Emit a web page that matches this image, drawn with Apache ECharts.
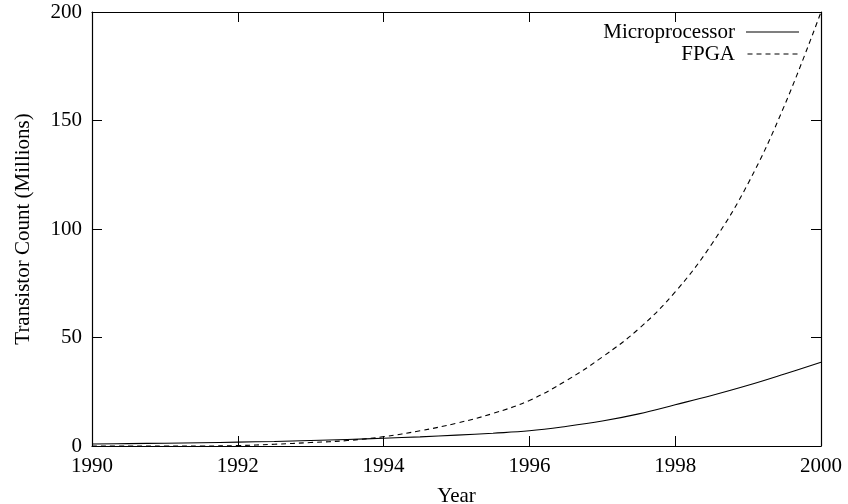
<!DOCTYPE html>
<html>
<head>
<meta charset="utf-8">
<script src="https://cdn.jsdelivr.net/npm/echarts@6/dist/echarts.min.js"></script>
<style>
html,body{margin:0;padding:0;background:#fff;}
#chart{width:848px;height:504px;}
</style>
</head>
<body>
<div id="chart"></div>
<script>
const years = [1990,1990.5,1991,1991.5,1992,1992.5,1993,1993.5,1994,1994.5,1995,1995.5,1996,1996.5,1997,1997.5,1998,1998.5,1999,1999.5,2000];
const microprocessor = [0.9,1.1,1.3,1.5,1.8,2.1,2.5,3.0,3.6,4.2,5.0,5.9,7.0,9.0,11.5,14.8,19.0,23.3,28.0,33.2,38.6];
const fpga = [0,0,0,0,0.2,0.8,1.6,2.5,4.3,7.0,10.5,15.0,21.0,30.0,41.0,54.0,71.0,93.0,121.0,157.0,200.0];
const xTicks = [1990,1992,1994,1996,1998,2000];
const yTicks = [0,50,100,150,200];

const FONT = 'Liberation Serif';
const FS = 21;
const chart = echarts.init(document.getElementById('chart'), null, {renderer:'canvas'});

function pairs(xs, ys){ return xs.map((x,i)=>[x, ys[i]]); }

const axisLine = {show:true, onZero:false, lineStyle:{color:'#000', width:1.2}};
const tick = {show:true, inside:true, length:10, lineStyle:{color:'#000', width:1}};

chart.setOption({
  animation:false,
  backgroundColor:'#fff',
  grid:{left:92, right:27, top:12, bottom:58, containLabel:false, outerBoundsMode:'none'},
  legend:{
    data:[
      {name:'Microprocessor', icon:'path://M0 0H53V1H0Z'},
      {name:'FPGA', icon:'path://M0 0h5v1h-5z M9 0h5v1h-5z M18 0h5v1h-5z M27 0h5v1h-5z M36 0h5v1h-5z M45 0h5v1h-5z'}
    ],
    orient:'vertical',
    right:49, top:21,
    align:'right',
    padding:0,
    itemGap:0,
    itemWidth:53,
    itemHeight:1,
    itemStyle:{color:'#000', borderWidth:0},
    lineStyle:{width:0},
    textStyle:{fontFamily:FONT, fontSize:FS, color:'#000', lineHeight:22, padding:[0,6,0,0]}
  },
  xAxis:[{
    type:'value', min:xTicks[0], max:xTicks[xTicks.length-1], interval:2,
    name:'Year', nameLocation:'middle', nameGap:40,
    nameTextStyle:{fontFamily:FONT, fontSize:FS, color:'#000'},
    axisLine:axisLine, axisTick:tick, splitLine:{show:false},
    axisLabel:{fontFamily:FONT, fontSize:FS, color:'#000', margin:10, formatter:v=>String(v)}
  },{
    type:'value', position:'top', min:xTicks[0], max:xTicks[xTicks.length-1], interval:2,
    axisLine:axisLine, axisTick:tick, splitLine:{show:false}, axisLabel:{show:false}
  }],
  yAxis:[{
    type:'value', min:yTicks[0], max:yTicks[yTicks.length-1], interval:50,
    name:'Transistor Count (Millions)', nameLocation:'middle', nameGap:58, nameRotate:90,
    nameTextStyle:{fontFamily:FONT, fontSize:FS, color:'#000'},
    axisLine:axisLine, axisTick:tick, splitLine:{show:false},
    axisLabel:{fontFamily:FONT, fontSize:FS, color:'#000', margin:10, formatter:v=>String(v)}
  },{
    type:'value', position:'right', min:yTicks[0], max:yTicks[yTicks.length-1], interval:50,
    axisLine:axisLine, axisTick:tick, splitLine:{show:false}, axisLabel:{show:false}
  }],
  series:[{
    name:'Microprocessor', type:'line', data:pairs(years, microprocessor),
    showSymbol:false, symbol:'none', smooth:0.4,
    itemStyle:{color:'#000'},
    lineStyle:{color:'#000', width:1.1}
  },{
    name:'FPGA', type:'line', data:pairs(years, fpga),
    showSymbol:false, symbol:'none', smooth:0.4,
    itemStyle:{color:'#000'},
    lineStyle:{color:'#000', width:1.1, type:[5,4]}
  }]
});
</script>
</body>
</html>
